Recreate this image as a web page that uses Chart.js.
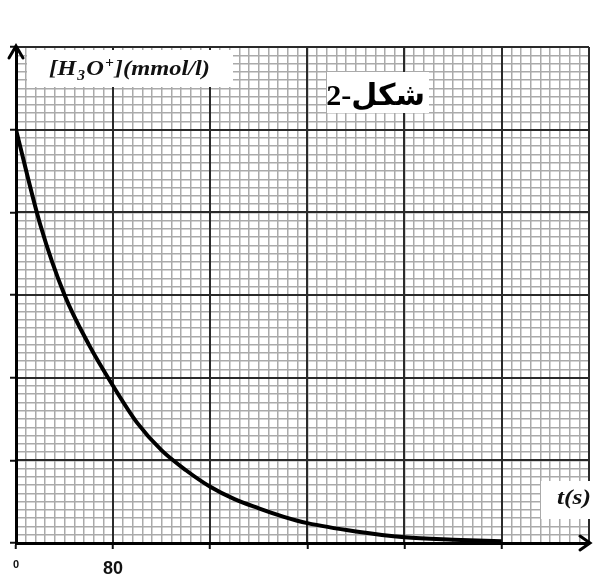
<!DOCTYPE html>
<html>
<head>
<meta charset="utf-8">
<script src="https://cdn.jsdelivr.net/npm/chart.js@4.4.1/dist/chart.umd.min.js"></script>
<style>
  html, body { margin: 0; padding: 0; background: #fff; }
  #wrap { width: 598px; height: 578px; }
</style>
</head>
<body>
<div id="wrap"><canvas id="chart" width="598" height="578"></canvas></div>
<script>
// values (t in s, concentration in grid units)
const times = [0, 20, 40, 60, 80, 100, 120, 140, 160, 180, 200, 220, 240, 280, 320, 360, 400];
const conc = [5.0, 3.85, 3.0, 2.4, 1.9, 1.45, 1.12, 0.88, 0.68, 0.53, 0.42, 0.32, 0.24, 0.14, 0.07, 0.04, 0.02];
const xLabels = [0, 80];

const isMajorX = v => Math.abs(v % 80) < 1e-6;
const isMajorY = v => Math.abs(v - Math.round(v)) < 1e-6;

// draw text fitted to a given width
function fitText(ctx, parts, x, base, width) {
    let total = 0;
    parts.forEach(p => { ctx.font = p[1]; total += ctx.measureText(p[0]).width + 1; });
    const k = width / total;
    ctx.save();
    ctx.translate(x, base);
    ctx.scale(k, 1);
    let cx = 0;
    parts.forEach(p => {
        ctx.font = p[1];
        ctx.fillText(p[0], cx, p[2]);
        cx += ctx.measureText(p[0]).width + 1;
    });
    ctx.restore();
}

// Titles, boxes and arrow heads
const decorations = {
    id: 'decorations',
    afterDraw(chart) {
        const ctx = chart.ctx;
        const { left, right, top, bottom } = chart.chartArea;
        ctx.save();

        // arrow heads
        ctx.strokeStyle = '#000';
        ctx.lineWidth = 3;
        ctx.lineCap = 'round';
        ctx.beginPath();
        ctx.moveTo(left - 7, top + 11);
        ctx.lineTo(left, top - 1);
        ctx.lineTo(left + 7, top + 11);
        ctx.moveTo(right - 9, bottom - 7);
        ctx.lineTo(right + 1, bottom);
        ctx.lineTo(right - 9, bottom + 7);
        ctx.stroke();

        // y label box
        ctx.fillStyle = '#fff';
        ctx.fillRect(27, 50, 206, 37);
        ctx.fillStyle = '#111';
        ctx.textBaseline = 'alphabetic';
        const big = 'italic bold 22px "Liberation Serif"';
        const small = 'italic bold 14px "Liberation Serif"';
        fitText(ctx, [
            ['[H', big, 0], ['3', small, 5], ['O', big, 0], ['+', small, -8], ['](mmol/l)', big, 0]
        ], 49, 75, 162);

        // figure title box
        ctx.fillStyle = '#fff';
        ctx.fillRect(327, 72, 102, 41);
        ctx.fillStyle = '#000';
        ctx.font = 'bold 30px "Liberation Serif", "DejaVu Sans"';
        ctx.direction = 'rtl';
        ctx.textAlign = 'right';
        ctx.fillText('شكل-2', 425, 105);
        ctx.direction = 'ltr';
        ctx.textAlign = 'left';

        // x label box
        ctx.fillStyle = '#fff';
        ctx.fillRect(541, 481, 57, 38);
        ctx.fillStyle = '#111';
        fitText(ctx, [['t(s)', 'italic bold 22px "Liberation Serif"', 0]], 557, 504, 35);

        ctx.restore();
    }
};

const ctx = document.getElementById('chart').getContext('2d');
new Chart(ctx, {
    type: 'line',
    data: {
        datasets: [{
            data: times.map((t, i) => ({ x: t, y: conc[i] })),
            borderColor: '#000',
            borderWidth: 4,
            pointRadius: 0,
            fill: false,
            cubicInterpolationMode: 'monotone'
        }]
    },
    options: {
        responsive: false,
        animation: false,
        layout: { padding: { top: 47, right: 7, left: 0, bottom: 0 } },
        plugins: { legend: { display: false }, tooltip: { enabled: false } },
        scales: {
            // minor grid + axes
            x: {
                type: 'linear',
                min: 0,
                max: 472,
                afterFit: scale => { scale.height = 35; },
                border: { color: '#000', width: 3 },
                grid: {
                    color: '#aaaaaa',
                    lineWidth: 1.5,
                    tickColor: c => isMajorX(c.tick.value) ? '#111' : 'rgba(0,0,0,0)',
                    tickWidth: 2,
                    tickLength: 6
                },
                ticks: {
                    stepSize: 8,
                    autoSkip: false,
                    maxRotation: 0,
                    padding: 9,
                    color: '#111',
                    font: c => c.tick && c.tick.value === 0
                        ? { family: 'Liberation Sans', size: 11, weight: 'bold' }
                        : { family: 'Liberation Sans', size: 18, weight: 'bold' },
                    callback: v => xLabels.includes(v) ? String(v) : ''
                }
            },
            y: {
                min: 0,
                max: 6,
                afterFit: scale => { scale.width = 16; },
                border: { color: '#000', width: 3 },
                grid: {
                    color: '#aaaaaa',
                    lineWidth: 1.5,
                    tickColor: c => isMajorY(c.tick.value) ? '#111' : 'rgba(0,0,0,0)',
                    tickWidth: 2,
                    tickLength: 6
                },
                ticks: {
                    stepSize: 0.1,
                    autoSkip: false,
                    callback: () => ''
                }
            },
            // major grid drawn on top of the minor one
            x2: {
                type: 'linear',
                position: 'bottom',
                min: 0,
                max: 472,
                afterFit: scale => { scale.height = 0; },
                border: { display: false },
                grid: {
                    color: c => c.tick.value === 0 ? 'rgba(0,0,0,0)' : '#2a2a2a',
                    lineWidth: 2,
                    drawTicks: false
                },
                ticks: { stepSize: 80, display: false }
            },
            y2: {
                type: 'linear',
                position: 'left',
                min: 0,
                max: 6,
                afterFit: scale => { scale.width = 0; },
                border: { display: false },
                grid: {
                    color: c => c.tick.value === 0 ? 'rgba(0,0,0,0)' : '#2a2a2a',
                    lineWidth: 2,
                    drawTicks: false
                },
                ticks: { stepSize: 1, display: false }
            }
        }
    },
    plugins: [decorations]
});
</script>
</body>
</html>
